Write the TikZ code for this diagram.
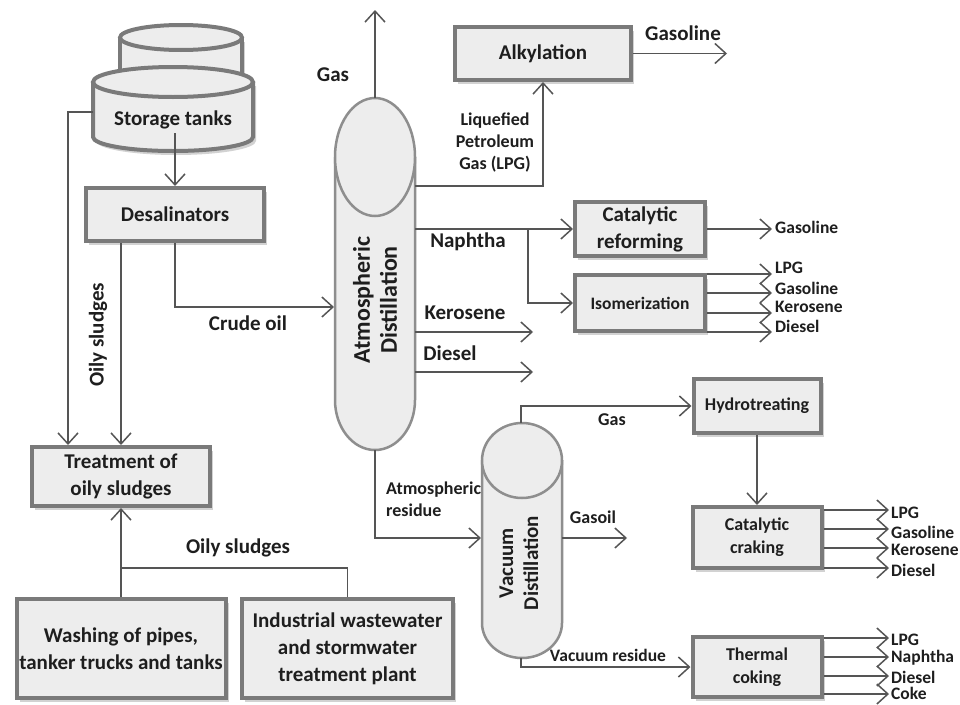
\documentclass[tikz,border=0pt]{standalone}
\usepackage{fontspec}
\setmainfont{Carlito}
\usetikzlibrary{arrows.meta,shadows,calc}
\definecolor{boxfill}{HTML}{EDEDED}
\definecolor{boxline}{HTML}{7A7A7A}
\definecolor{lncol}{HTML}{555555}
\definecolor{txt}{HTML}{1E1E1E}
\definecolor{colline}{HTML}{8E8E8E}
\tikzset{
 boxshadow/.style={drop shadow={shadow xshift=3pt, shadow yshift=-4pt, opacity=0.25, fill=black!70}},
 procbox/.style={draw=boxline, line width=4pt, fill=boxfill, inner sep=0pt, align=center, text=txt, boxshadow,
   font=\fontsize{21}{27}\selectfont\bfseries},
 smallbox/.style={procbox, font=\fontsize{18}{23}\selectfont\bfseries},
 flow/.style={draw=lncol, line width=1.5pt, -{Straight Barb[length=11pt,width=20pt,line width=1.5pt]}},
 plain/.style={draw=lncol, line width=1.5pt},
 biglab/.style={text=txt, font=\fontsize{21}{25}\selectfont\bfseries, inner sep=0pt},
 smalllab/.style={text=txt, font=\fontsize{18}{22}\selectfont\bfseries, inner sep=0pt, align=center},
 outlab/.style={text=txt, font=\fontsize{17.5}{20}\selectfont\bfseries, inner sep=0pt, anchor=west},
 column/.style={draw=colline, line width=2.5pt, fill=boxfill},
 tankline/.style={draw=boxline, line width=4pt},
}
\begin{document}
\begin{tikzpicture}[x=1pt,y=-1pt]
\useasboundingbox (0,0) rectangle (960,704);
\fill[white] (0,0) rectangle (960,704);

% ---------- storage tanks ----------
\fill[boxfill, boxshadow] (120,37.5) rectangle (242,85);
\draw[tankline] (120,37.5) -- (120,75);
\draw[tankline] (242,37.5) -- (242,75);
\draw[tankline, fill=boxfill] (181,37.5) ellipse [x radius=61, y radius=12.5];
\fill[boxfill, boxshadow] (93,82) -- (93,137) .. controls (93,144.7) and (128.8,151) .. (173,151)
   .. controls (217.2,151) and (253,144.7) .. (253,137) -- (253,82) -- cycle;
\draw[tankline] (93,82) -- (93,137) .. controls (93,144.7) and (128.8,151) .. (173,151)
   .. controls (217.2,151) and (253,144.7) .. (253,137) -- (253,82);
\draw[tankline, fill=boxfill] (173,82) ellipse [x radius=80, y radius=15];
\node[biglab] (tanklab) at (173,120) {Storage tanks};
\coordinate (tankL) at (93,112);
\coordinate (tankB) at (175,133);
\coordinate (lj) at (68,112);

% ---------- boxes ----------
\node[procbox, minimum width=178pt, minimum height=53pt] (desal) at (175,214.5) {Desalinators};
\node[procbox, minimum width=176pt, minimum height=53pt] (alk) at (543,53.5) {Alkylation};
\node[procbox, minimum width=130pt, minimum height=54pt] (catref) at (640,229) {Catalytic\\reforming};
\node[smallbox, font=\fontsize{17.5}{23}\selectfont\bfseries, minimum width=130pt, minimum height=56pt] (isom) at (640,303) {Isomerization};
\node[procbox, minimum width=178pt, minimum height=59pt] (treat) at (121,476.5) {Treatment of\\oily sludges};
\node[procbox, minimum width=209pt, minimum height=99pt] (wash) at (121,648.5) {Washing of pipes,\\tanker trucks and tanks};
\node[procbox, minimum width=211pt, minimum height=99pt] (ind) at (347.5,648.5) {Industrial wastewater\\and stormwater\\treatment plant};
\node[smallbox, minimum width=127pt, minimum height=54pt] (hydro) at (757,406) {Hydrotreating};
\node[smallbox, minimum width=129pt, minimum height=61pt] (catcrak) at (757,537.5) {Catalytic\\craking};
\node[smallbox, minimum width=129pt, minimum height=60pt] (thermal) at (757,667) {Thermal\\coking};

% ---------- atmospheric column ----------
\path[column] (335,157) -- (335,400) .. controls (335,427.6) and (352.9,450) .. (375,450)
   .. controls (397.1,450) and (415,427.6) .. (415,400) -- (415,157);
\draw[column] (375,157) ellipse [x radius=40, y radius=59];
\node[text=txt, font=\fontsize{24}{27}\selectfont\bfseries, align=center, rotate=90, inner sep=0pt] (atmlab) at (375,300) {Atmospheric\\Distillation};

% ---------- vacuum column ----------
\path[column] (482,460) -- (482,623) .. controls (482,642.3) and (499.9,658) .. (522,658)
   .. controls (544.1,658) and (562,642.3) .. (562,623) -- (562,460);
\draw[column] (522,460.5) ellipse [x radius=40, y radius=37.5];
\node[text=txt, font=\fontsize{21}{25}\selectfont\bfseries, align=center, rotate=90, inner sep=0pt] (vaclab) at (519,563) {Vacuum\\Distillation};

% ---------- coordinates ----------
\coordinate (atmIn) at (334,307);
\coordinate (atmTop) at (375,98);
\coordinate (gasEnd) at (375,10);
\coordinate (atmLPG) at (415,186);
\coordinate (atmN) at (415,229);
\coordinate (nb) at (528,229);
\coordinate (atmK) at (415,332);
\coordinate (kEnd) at (533,332);
\coordinate (atmD) at (415,372);
\coordinate (dEnd) at (533,372);
\coordinate (alkEnd) at (727,53.5);
\coordinate (refEnd) at (772,229);
\coordinate (atmBot) at (375,450);
\coordinate (vacIn) at (481,538);
\coordinate (vacR) at (562,538);
\coordinate (gasoilEnd) at (627,538);
\coordinate (vacTop) at (521,423);
\coordinate (vacBot) at (521,658);
\coordinate (oj) at (121,568);

% ---------- connectors ----------
\draw[flow] (tankB) -- (desal.north);
\draw[flow] (tankL) -- (lj) -- (lj |- treat.north);
\draw[flow] (desal.south -| treat.north) -- (treat.north);
\draw[flow] (desal.south) |- (atmIn);
\draw[flow] (atmTop) -- (gasEnd);
\draw[flow] (atmLPG) -| (alk.south);
\draw[flow] (alk.east) -- (alkEnd);
\draw[flow] (atmN) -- (catref.west);
\draw[flow] (nb) |- (isom.west);
\draw[flow] (atmK) -- (kEnd);
\draw[flow] (atmD) -- (dEnd);
\draw[flow] (catref.east) -- (refEnd);
\draw[flow] (atmBot) |- (vacIn);
\draw[flow] (vacR) -- (gasoilEnd);
\draw[flow] (vacTop) |- (hydro.west);
\draw[flow] (vacBot) |- (thermal.west);
\draw[flow] (hydro.south) -- (catcrak.north);
\draw[flow] (wash.north) -- (treat.south);
\draw[plain] (ind.north) |- (oj);

% fan outputs
\foreach \y/\ly/\t [count=\i] in {274/268/LPG, 293/288/Gasoline, 313/307/Kerosene, 332/326/Diesel}{
  \draw[flow] (isom.east |- 0,\y) -- (772,\y);
  \node[outlab] (iso\i) at (775,\ly) {\t};
}
\foreach \y/\ly/\t [count=\i] in {510/513/LPG, 529/532/Gasoline, 548/550/Kerosene, 568/570/Diesel}{
  \draw[flow] (catcrak.east |- 0,\y) -- (889,\y);
  \node[outlab] (cc\i) at (891,\ly) {\t};
}
\foreach \y/\ly/\t [count=\i] in {638/640/LPG, 657/658/Naphtha, 676/677/Diesel, 694/693/Coke}{
  \draw[flow] (thermal.east |- 0,\y) -- (889,\y);
  \node[outlab] (tc\i) at (891,\ly) {\t};
}

% ---------- labels ----------
\node[biglab] (gaslab) at (333,75) {Gas};
\node[smalllab] (lpglab) at (495,143) {Liquefied\\Petroleum\\Gas (LPG)};
\node[biglab] (alkgas) at (683,33) {Gasoline};
\node[biglab] (naph) at (468,242) {Naphtha};
\node[biglab] (kero) at (465,313) {Kerosene};
\node[biglab] (dies) at (450,353) {Diesel};
\node[outlab] (refgas) at (775,227) {Gasoline};
\node[biglab] (crude) at (248,323) {Crude oil};
\node[biglab, rotate=90] (oily1) at (98,335) {Oily sludges};
\node[biglab] (oily2) at (238,548) {Oily sludges};
\node[smalllab, align=left, anchor=west] (atmres) at (386,499) {Atmospheric\\residue};
\node[smalllab] (vgas) at (612,420) {Gas};
\node[smalllab] (gasoil) at (593,517) {Gasoil};
\node[smalllab, font=\fontsize{17.5}{20}\selectfont\bfseries] (vres) at (608,655) {Vacuum residue};
\end{tikzpicture}
\end{document}
